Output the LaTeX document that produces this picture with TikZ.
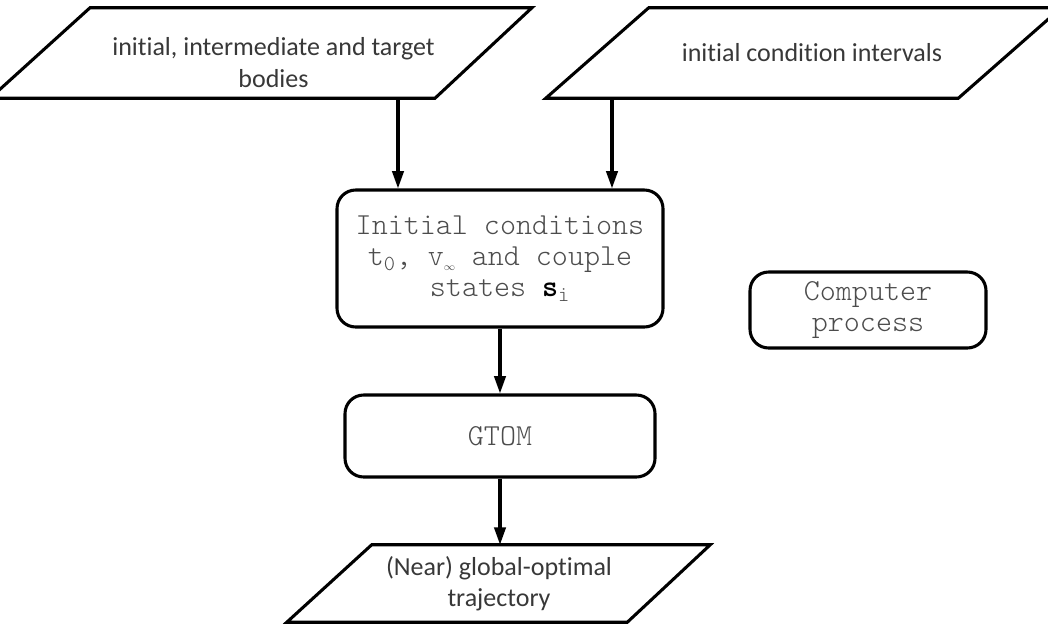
\documentclass[tikz,border=0pt]{standalone}
\usepackage{fontspec}
\setmainfont{Carlito}[Ligatures=NoCommon]
\newfontfamily\codefont{lmmonolt10-regular}[Extension=.otf, BoldFont=lmmonolt10-bold]
\usetikzlibrary{arrows.meta,calc}
\tikzset{
  outline/.style={draw=black, line width=2.3pt, line join=miter},
  datatext/.style={inner sep=0pt, align=center, text=black!78,
    font=\fontsize{19.5}{23.5}\selectfont},
  procbox/.style={draw=black, line width=2.3pt, rounded corners=14pt,
    align=center, inner sep=0pt, text=black!70,
    font=\codefont\fontsize{22.9}{23.25}\selectfont},
  flow/.style={line width=2.3pt, -{Triangle[length=13pt,width=8.5pt]}},
}
\begin{document}
\begin{tikzpicture}[x=0.75pt,y=-0.75pt]
\useasboundingbox (0,0) rectangle (1048,625);

% input data: bodies (text block sits a little low in the frame)
\node[datatext, minimum width=212.25pt, minimum height=67.5pt] (inA) at (273.5,53)
  {\rule{0pt}{28pt}initial, intermediate and target\\bodies};
\draw[outline] ($(inA.south west)+(-122,0)$) -- ($(inA.north west)+(-22,0)$)
  -- ($(inA.north east)+(97,0)$) -- (inA.south east) -- cycle;

% input data: intervals
\node[datatext, minimum width=219pt, minimum height=67.5pt] (inB) at (812,53)
  {initial condition intervals};
\draw[outline] ($(inB.south west)+(-120,0)$) -- ($(inB.north west)+(-17,0)$)
  -- ($(inB.north east)+(103,0)$) -- (inB.south east) -- cycle;

% processes
\node[procbox, minimum width=244.5pt, minimum height=102.75pt] (init) at (500,258.5)
  {Initial conditions\\
   t\textsubscript{0}, v\textsubscript{$\scriptscriptstyle\infty$} and couple\\
   states {\color{black}\textbf{s}}\textsubscript{i}};
\node[procbox, minimum width=232.5pt, minimum height=61.5pt] (gtom) at (500,436) {GTOM};
\node[procbox, minimum width=177pt, minimum height=57pt] (legend) at (868,310)
  {Computer\\process};

% output data
\node[datatext, minimum width=192pt, minimum height=57.75pt] (result) at (499,583.5)
  {(Near) global-optimal\\trajectory};
\draw[outline] ($(result.south west)+(-84,0)$) -- ($(result.north west)+(1,0)$)
  -- ($(result.north east)+(83,0)$) -- (result.south east) -- cycle;

% connectors
\coordinate (aL) at ($(init.north)+(-102,0)$);
\coordinate (aR) at ($(init.north)+(112,0)$);
\draw[flow] (aL |- inA.south) -- (aL);
\draw[flow] (aR |- inB.south) -- (aR);
\draw[flow] (init.south) -- (gtom.north);
\draw[flow] (gtom.south) -- (gtom.south |- result.north);
\end{tikzpicture}
\end{document}
